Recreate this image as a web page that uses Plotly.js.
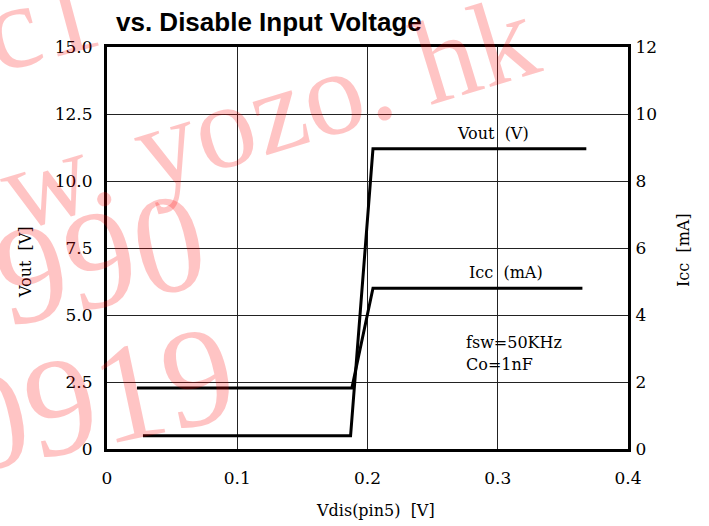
<!DOCTYPE html>
<html>
<head>
<meta charset="utf-8">
<script src="https://cdn.plot.ly/plotly-3.0.1.min.js"></script>
<style>html,body{margin:0;padding:0;background:#fff;}#chart{width:709px;height:526px;}</style>
</head>
<body>
<div id="chart"></div>
<script>
// Data
const voutX = [0.0276, 0.1870, 0.2042, 0.368];
const voutY = [0.49, 0.49, 11.2, 11.2];
const iccX = [0.023, 0.1880, 0.2042, 0.365];
const iccY = [1.82, 1.82, 4.8, 4.8];

const xTicks = [0, 0.1, 0.2, 0.3, 0.4];
const xTickText = ["0", "0.1", "0.2", "0.3", "0.4"];
const yTicks = [0, 2.5, 5, 7.5, 10, 12.5, 15];
const yTickText = ["0", "2.5", "5.0", "7.5", "10.0", "12.5", "15.0"];
const y2Ticks = [0, 2, 4, 6, 8, 10, 12];
const y2TickText = ["0", "2", "4", "6", "8", "10", "12"];

const serif = "DejaVu Serif, Liberation Serif, serif";
const tickFont = {family: serif, size: 17, color: "#000"};
const txtFont = {family: serif, size: 16, color: "#000"};
const wm = "rgba(255,0,0,0.23)";
const NB = "\u00a0";

const traces = [
  {x: voutX, y: voutY, type: "scatter", mode: "lines", line: {color: "#000", width: 3}, yaxis: "y", hoverinfo: "skip"},
  {x: iccX, y: iccY, type: "scatter", mode: "lines", line: {color: "#000", width: 3}, yaxis: "y2", hoverinfo: "skip"}
];

const W = 709, H = 526, L = 107, R = 628, T = 47, B = 449;
function px(x) { return (x - L) / (R - L); }
function py(y) { return (B - y) / (B - T); }
function ann(text, x, y, opts) {
  return Object.assign({text: text, xref: "paper", yref: "paper", x: px(x), y: py(y), xanchor: "center", yanchor: "middle",
                        showarrow: false, font: txtFont}, opts || {});
}

const layout = {
  width: W, height: H,
  margin: {l: L, r: W - R, t: T, b: H - B},
  paper_bgcolor: "#fff", plot_bgcolor: "#fff",
  showlegend: false,
  title: {text: "<b>vs. Disable Input Voltage</b>", font: {family: "Liberation Sans, Arial, sans-serif", size: 26, color: "#000"},
          xref: "paper", x: px(116), xanchor: "left", yref: "container", y: 1 - 22 / H, yanchor: "middle"},
  xaxis: {range: [0, 0.4], tickvals: xTicks, ticktext: xTickText, showgrid: true, gridcolor: "#222", gridwidth: 1,
          zeroline: false, showline: true, linecolor: "#000", linewidth: 3, mirror: true, ticks: "", tickfont: tickFont, ticklabelstandoff: 12},
  yaxis: {range: [0, 15], tickvals: yTicks, ticktext: yTickText, showgrid: true, gridcolor: "#222", gridwidth: 1,
          zeroline: false, showline: true, linecolor: "#000", linewidth: 3, ticks: "", tickfont: tickFont, ticklabelstandoff: 8},
  yaxis2: {range: [0, 12], tickvals: y2Ticks, ticktext: y2TickText, overlaying: "y", side: "right", showgrid: false,
          zeroline: false, showline: true, linecolor: "#000", linewidth: 3, ticks: "", tickfont: tickFont, ticklabelstandoff: 1},
  annotations: [
    ann("Vout" + NB + NB + "[V]", 25, 262, {textangle: -90}),
    ann("Icc" + NB + NB + "[mA]", 683, 250, {textangle: -90}),
    ann("Vdis(pin5)" + NB + NB + "[V]", 375, 510),
    ann("Vout" + NB + NB + "(V)", 455, 133, {xanchor: "left"}),
    ann("Icc" + NB + NB + "(mA)", 467, 272, {xanchor: "left"}),
    ann("fsw=50KHz", 464, 342, {xanchor: "left"}),
    ann("Co=1nF", 464, 364, {xanchor: "left"}),
    // watermark
    ann("c1", 40, 20, {textangle: -15, font: {family: "Liberation Serif, serif", size: 120, color: wm}}),
    ann("w. yozo. hk", 268, 112, {textangle: -17, font: {family: "Liberation Serif, serif", size: 120, color: wm}}),
    ann("990", 100, 258, {textangle: -12, font: {family: "Liberation Serif, serif", size: 140, color: wm}}),
    ann("0919", 95, 398, {textangle: -12, font: {family: "Liberation Serif, serif", size: 140, color: wm}})
  ]
};

Plotly.newPlot("chart", traces, layout, {displayModeBar: false, staticPlot: true});
</script>
</body>
</html>
